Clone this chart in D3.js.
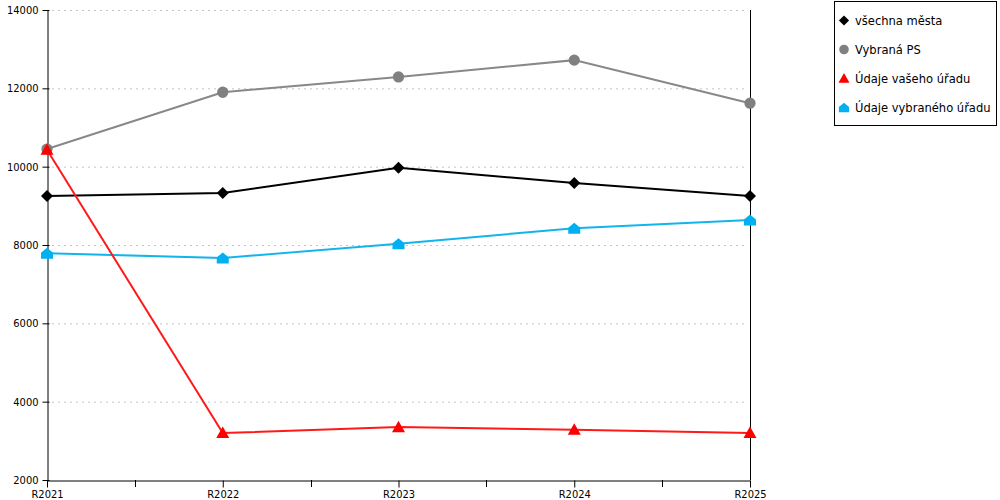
<!DOCTYPE html>
<html>
<head>
<meta charset="utf-8">
<script src="https://cdn.jsdelivr.net/npm/d3@7"></script>
<style>
  body { margin: 0; background: #fff; }
  svg text { font-family: "DejaVu Sans Condensed", "DejaVu Sans", sans-serif; }
</style>
</head>
<body>
<svg></svg>
<script>
// data
const years = ["R2021", "R2022", "R2023", "R2024", "R2025"];
const vsechnaMesta = [9250, 9330, 9970, 9580, 9250];
const vybranaPS = [10450, 11900, 12290, 12720, 11620];
const udajeVasehoUradu = [10430, 3200, 3350, 3280, 3200];
const udajeVybranehoUradu = [7790, 7670, 8030, 8430, 8640];
const yTicks = [2000, 4000, 6000, 8000, 10000, 12000, 14000];
const seriesNames = ["všechna města", "Vybraná PS", "Údaje vašeho úřadu", "Údaje vybraného úřadu"];

const width = 1000;
const height = 500;
const svg = d3.select("svg")
  .attr("width", width)
  .attr("height", height);

const mLeft = 47, mRight = 750, mTop = 10, mBottom = 480;

const x = d3.scalePoint().domain(years).range([mLeft, mRight]).padding(0);
const y = d3.scaleLinear().domain([2000, 14000]).range([mBottom, mTop]);

// gridlines
svg.append("g")
  .selectAll("line")
  .data(yTicks.slice(1))
  .join("line")
  .attr("x1", mLeft + 5)
  .attr("x2", mRight - 4)
  .attr("y1", d => y(d) + 0.5)
  .attr("y2", d => y(d) + 0.5)
  .style("stroke", "#c4c4c4")
  .style("stroke-width", 1)
  .style("stroke-dasharray", "2,4");

// y axis
const yAxis = svg.append("g")
  .attr("transform", `translate(${mLeft + 0.5},0)`)
  .call(d3.axisLeft(y).tickValues(yTicks).tickSizeInner(5).tickSizeOuter(0).tickPadding(4).tickFormat(d3.format("d")));
yAxis.selectAll("text").style("font-size", "11px").style("fill", "#000");
yAxis.selectAll("line").attr("x2", -5).attr("x1", 2).style("stroke", "#000");
yAxis.select(".domain").style("stroke", "#000");

// x axis
const xAxis = svg.append("g")
  .attr("transform", `translate(0,${mBottom + 0.5})`)
  .call(d3.axisBottom(x).tickSizeInner(7).tickSizeOuter(0).tickPadding(3));
xAxis.selectAll("text").style("font-size", "11px").style("fill", "#000");
xAxis.selectAll("line").style("stroke", "#000");
xAxis.select(".domain").style("stroke", "#000");

// minor ticks between years
const mids = d3.pairs(years).map(([a, b]) => (x(a) + x(b)) / 2);
svg.append("g")
  .selectAll("line")
  .data(mids)
  .join("line")
  .attr("x1", d => Math.round(d) + 0.5)
  .attr("x2", d => Math.round(d) + 0.5)
  .attr("y1", mBottom)
  .attr("y2", mBottom + 7)
  .style("stroke", "#000");

// right vertical line
svg.append("line")
  .attr("x1", mRight + 0.5).attr("x2", mRight + 0.5)
  .attr("y1", mTop).attr("y2", mBottom)
  .style("stroke", "#000");

// marker shapes relative to (0,0)
const shapes = {
  diamond: "M0,-6L6,0L0,6L-6,0Z",
  circle: d3.symbol(d3.symbolCircle, 100)(),
  triangle: "M0,-6.5L6.5,5L-6.5,5Z",
  house: "M0,-5.5L6,-0.5L6,5.5L-6,5.5L-6,-0.5Z"
};

const series = [
  { name: seriesNames[0], values: vsechnaMesta, color: "#000000", marker: "diamond" },
  { name: seriesNames[1], values: vybranaPS, color: "#888888", mcolor: "#808080", marker: "circle" },
  { name: seriesNames[2], values: udajeVasehoUradu, color: "#ff1a1a", mcolor: "#ff0000", marker: "triangle" },
  { name: seriesNames[3], values: udajeVybranehoUradu, color: "#12b4ec", mcolor: "#00b0f0", marker: "house" }
];

const line = d3.line()
  .x((d, i) => x(years[i]))
  .y(d => y(d));

// pořadí kreslení: modrá, šedá, černá, červená navrch
const order = [3, 1, 0, 2];
order.forEach(k => {
  const s = series[k];
  const g = svg.append("g");
  g.append("path")
    .attr("d", line(s.values))
    .style("fill", "none")
    .style("stroke", s.color)
    .style("stroke-width", 2);
  g.selectAll("path.m")
    .data(s.values)
    .join("path")
    .attr("class", "m")
    .attr("d", shapes[s.marker])
    .attr("transform", (d, i) => `translate(${x(years[i])},${y(d)})`)
    .style("fill", s.mcolor || s.color);
});

// legend
const legend = svg.append("g");
legend.append("rect")
  .attr("x", 834.5).attr("y", 1.5)
  .attr("width", 162).attr("height", 124)
  .style("fill", "#fff")
  .style("stroke", "#000");

const rowY = [20.5, 49.5, 78.5, 107.5];
series.forEach((s, i) => {
  legend.append("path")
    .attr("d", shapes[s.marker])
    .attr("transform", `translate(844,${rowY[i]}) scale(0.85)`)
    .style("fill", s.mcolor || s.color);
  legend.append("text")
    .attr("x", 855)
    .attr("y", rowY[i] + 4.5)
    .style("font-size", "12.8px")
    .style("fill", "#000")
    .text(s.name);
});
</script>
</body>
</html>
